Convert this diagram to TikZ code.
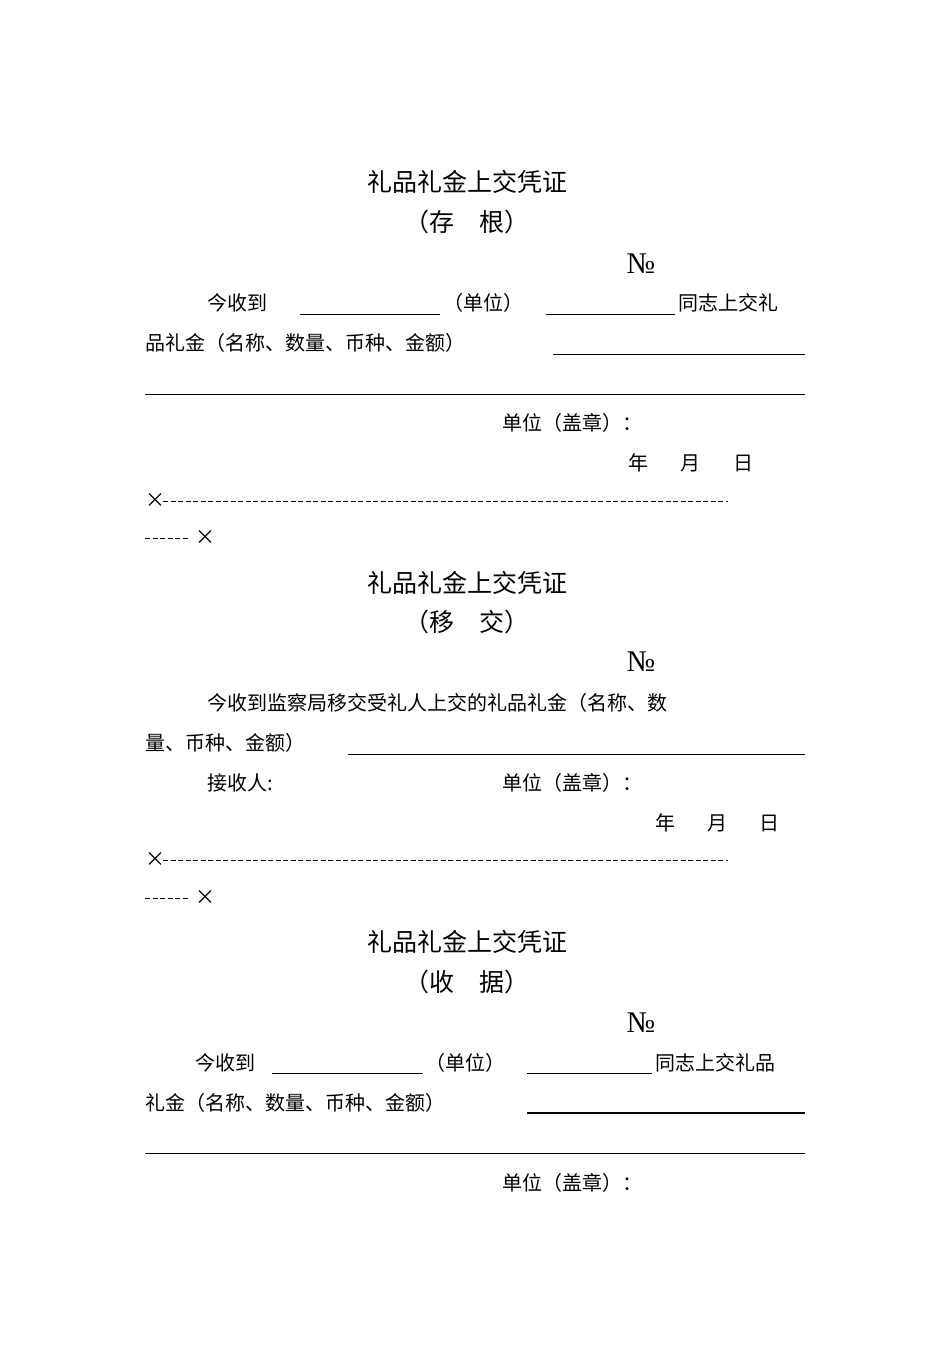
\documentclass[tikz,border=0pt]{standalone}
\usepackage{fontspec}
\setmainfont{Liberation Serif}
\newfontfamily\cjk{Noto Sans CJK SC}[Scale=1]
\begin{document}
\begin{tikzpicture}[x=1pt,y=-1pt,
  txt/.style={anchor=west,inner sep=0pt,font=\cjk\fontsize{20}{24}\selectfont},
  ttl/.style={inner sep=0pt,font=\cjk\fontsize{25}{30}\selectfont},
  no/.style={inner sep=0pt,font=\fontsize{30}{34}\selectfont},
  ul/.style={line width=0.8pt},
  cut/.style={line width=0.6pt,dash pattern=on 5pt off 2.5pt}]
\useasboundingbox (0,0) rectangle (950,1345);
% section 1
\node[ttl] (t1) at (467,182) {礼品礼金上交凭证};
\node[ttl] (s1) at (467,222) {（存\quad 根）};
\node[no] (n1) at (641,264) {№};
\node[txt] (a1) at (207,303) {今收到};
\draw[ul] (300,314) -- (440,314);
\node[txt] (b1) at (443,303) {（单位）};
\draw[ul] (546,314) -- (675,314);
\node[txt] (c1) at (678,303) {同志上交礼};
\node[txt] (d1) at (145,343) {品礼金（名称、数量、币种、金额）};
\draw[ul] (553,354) -- (805,354);
\draw[ul] (145,394) -- (805,394);
\node[txt] (e1) at (502,423) {单位（盖章）：};
\node[txt] at (628,463) {年};
\node[txt] at (680,463) {月};
\node[txt] at (733,463) {日};
\node[txt] (x1) at (145,501) {×};
\draw[cut] (163,501) -- (728,501);
\draw[cut] (145,538) -- (188,538);
\node[txt] (y1) at (195,538) {×};
% section 2
\node[ttl] (t2) at (467,583) {礼品礼金上交凭证};
\node[ttl] (s2) at (467,622) {（移\quad 交）};
\node[no] (n2) at (641,662) {№};
\node[txt] (a2) at (207,703) {今收到监察局移交受礼人上交的礼品礼金（名称、数};
\node[txt] (d2) at (145,743) {量、币种、金额）};
\draw[ul] (348,754) -- (805,754);
\node[txt] (r2) at (207,783) {接收人:};
\node[txt] (e2) at (502,783) {单位（盖章）：};
\node[txt] at (655,823) {年};
\node[txt] at (707,823) {月};
\node[txt] at (759,823) {日};
\node[txt] (x2) at (145,860) {×};
\draw[cut] (163,860) -- (728,860);
\draw[cut] (145,898) -- (188,898);
\node[txt] (y2) at (195,898) {×};
% section 3
\node[ttl] (t3) at (467,942) {礼品礼金上交凭证};
\node[ttl] (s3) at (467,982) {（收\quad 据）};
\node[no] (n3) at (641,1023) {№};
\node[txt] (a3) at (195,1063) {今收到};
\draw[ul] (272,1073) -- (423,1073);
\node[txt] (b3) at (425,1063) {（单位）};
\draw[ul] (527,1073) -- (652,1073);
\node[txt] (c3) at (655,1063) {同志上交礼品};
\node[txt] (d3) at (145,1103) {礼金（名称、数量、币种、金额）};
\draw[line width=1.4pt] (527,1113) -- (805,1113);
\draw[ul] (145,1153) -- (805,1153);
\node[txt] (e3) at (502,1183) {单位（盖章）：};
\end{tikzpicture}
\end{document}
